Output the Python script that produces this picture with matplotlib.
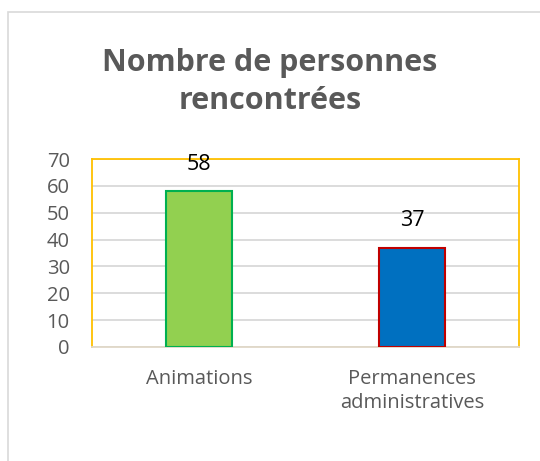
import matplotlib.pyplot as plt
from matplotlib.patches import Rectangle

categories = ["Animations", "Permanences\nadministratives"]
values = [58, 37]
fill_colors = ["#92D050", "#0070C0"]
edge_colors = ["#00B050", "#C00000"]
yticks = [0, 10, 20, 30, 40, 50, 60, 70]

plt.rcParams['font.family'] = ['Open Sans', 'DejaVu Sans']

fig = plt.figure(figsize=(5.4, 4.61), dpi=100)
# outer chart border (cut off at right and bottom, as in the reference)
fig.patches.append(Rectangle((8 / 540, -0.1), 1.2, 1 - 12 / 461 + 0.1,
                             transform=fig.transFigure, fill=False,
                             edgecolor="#d9d9d9", linewidth=1.2))

ax = fig.add_axes([92 / 540, 1 - 347 / 461, 427 / 540, 188 / 461])

x = range(len(categories))
bars = ax.bar(x, values, width=0.31, color=fill_colors,
              edgecolor=edge_colors, linewidth=1.5, zorder=3)

for b, v in zip(bars, values):
    ax.annotate(str(v), (b.get_x() + b.get_width() / 2, v),
                xytext=(0, 27 * 0.72), textcoords="offset points",
                ha="center", va="center", fontsize=15.5, color="black")

ax.set_xlim(-0.5, 1.5)
ax.set_ylim(0, 70)
ax.set_yticks(yticks)
ax.set_xticks(list(x))
ax.set_xticklabels(categories, fontsize=14.5, color="#595959", linespacing=1.25,
                   va="top")
ax.tick_params(axis="y", labelsize=14.5, labelcolor="#595959", length=0, pad=16)
ax.tick_params(axis="x", length=0, pad=16)
ax.grid(axis="y", color="#d9d9d9", linewidth=1.3, zorder=0)

for side in ["left", "top", "right"]:
    ax.spines[side].set_color("#FFC000")
    ax.spines[side].set_linewidth(1.3)
ax.spines["bottom"].set_color("#e0d8c8")
ax.spines["bottom"].set_linewidth(1.3)

fig.text(270 / 540, 1 - 82 / 461, "Nombre de personnes\nrencontrées",
         ha="center", va="center", fontsize=22, fontweight="bold",
         color="#595959", linespacing=1.35)

fig.savefig("out.png", dpi=100)
